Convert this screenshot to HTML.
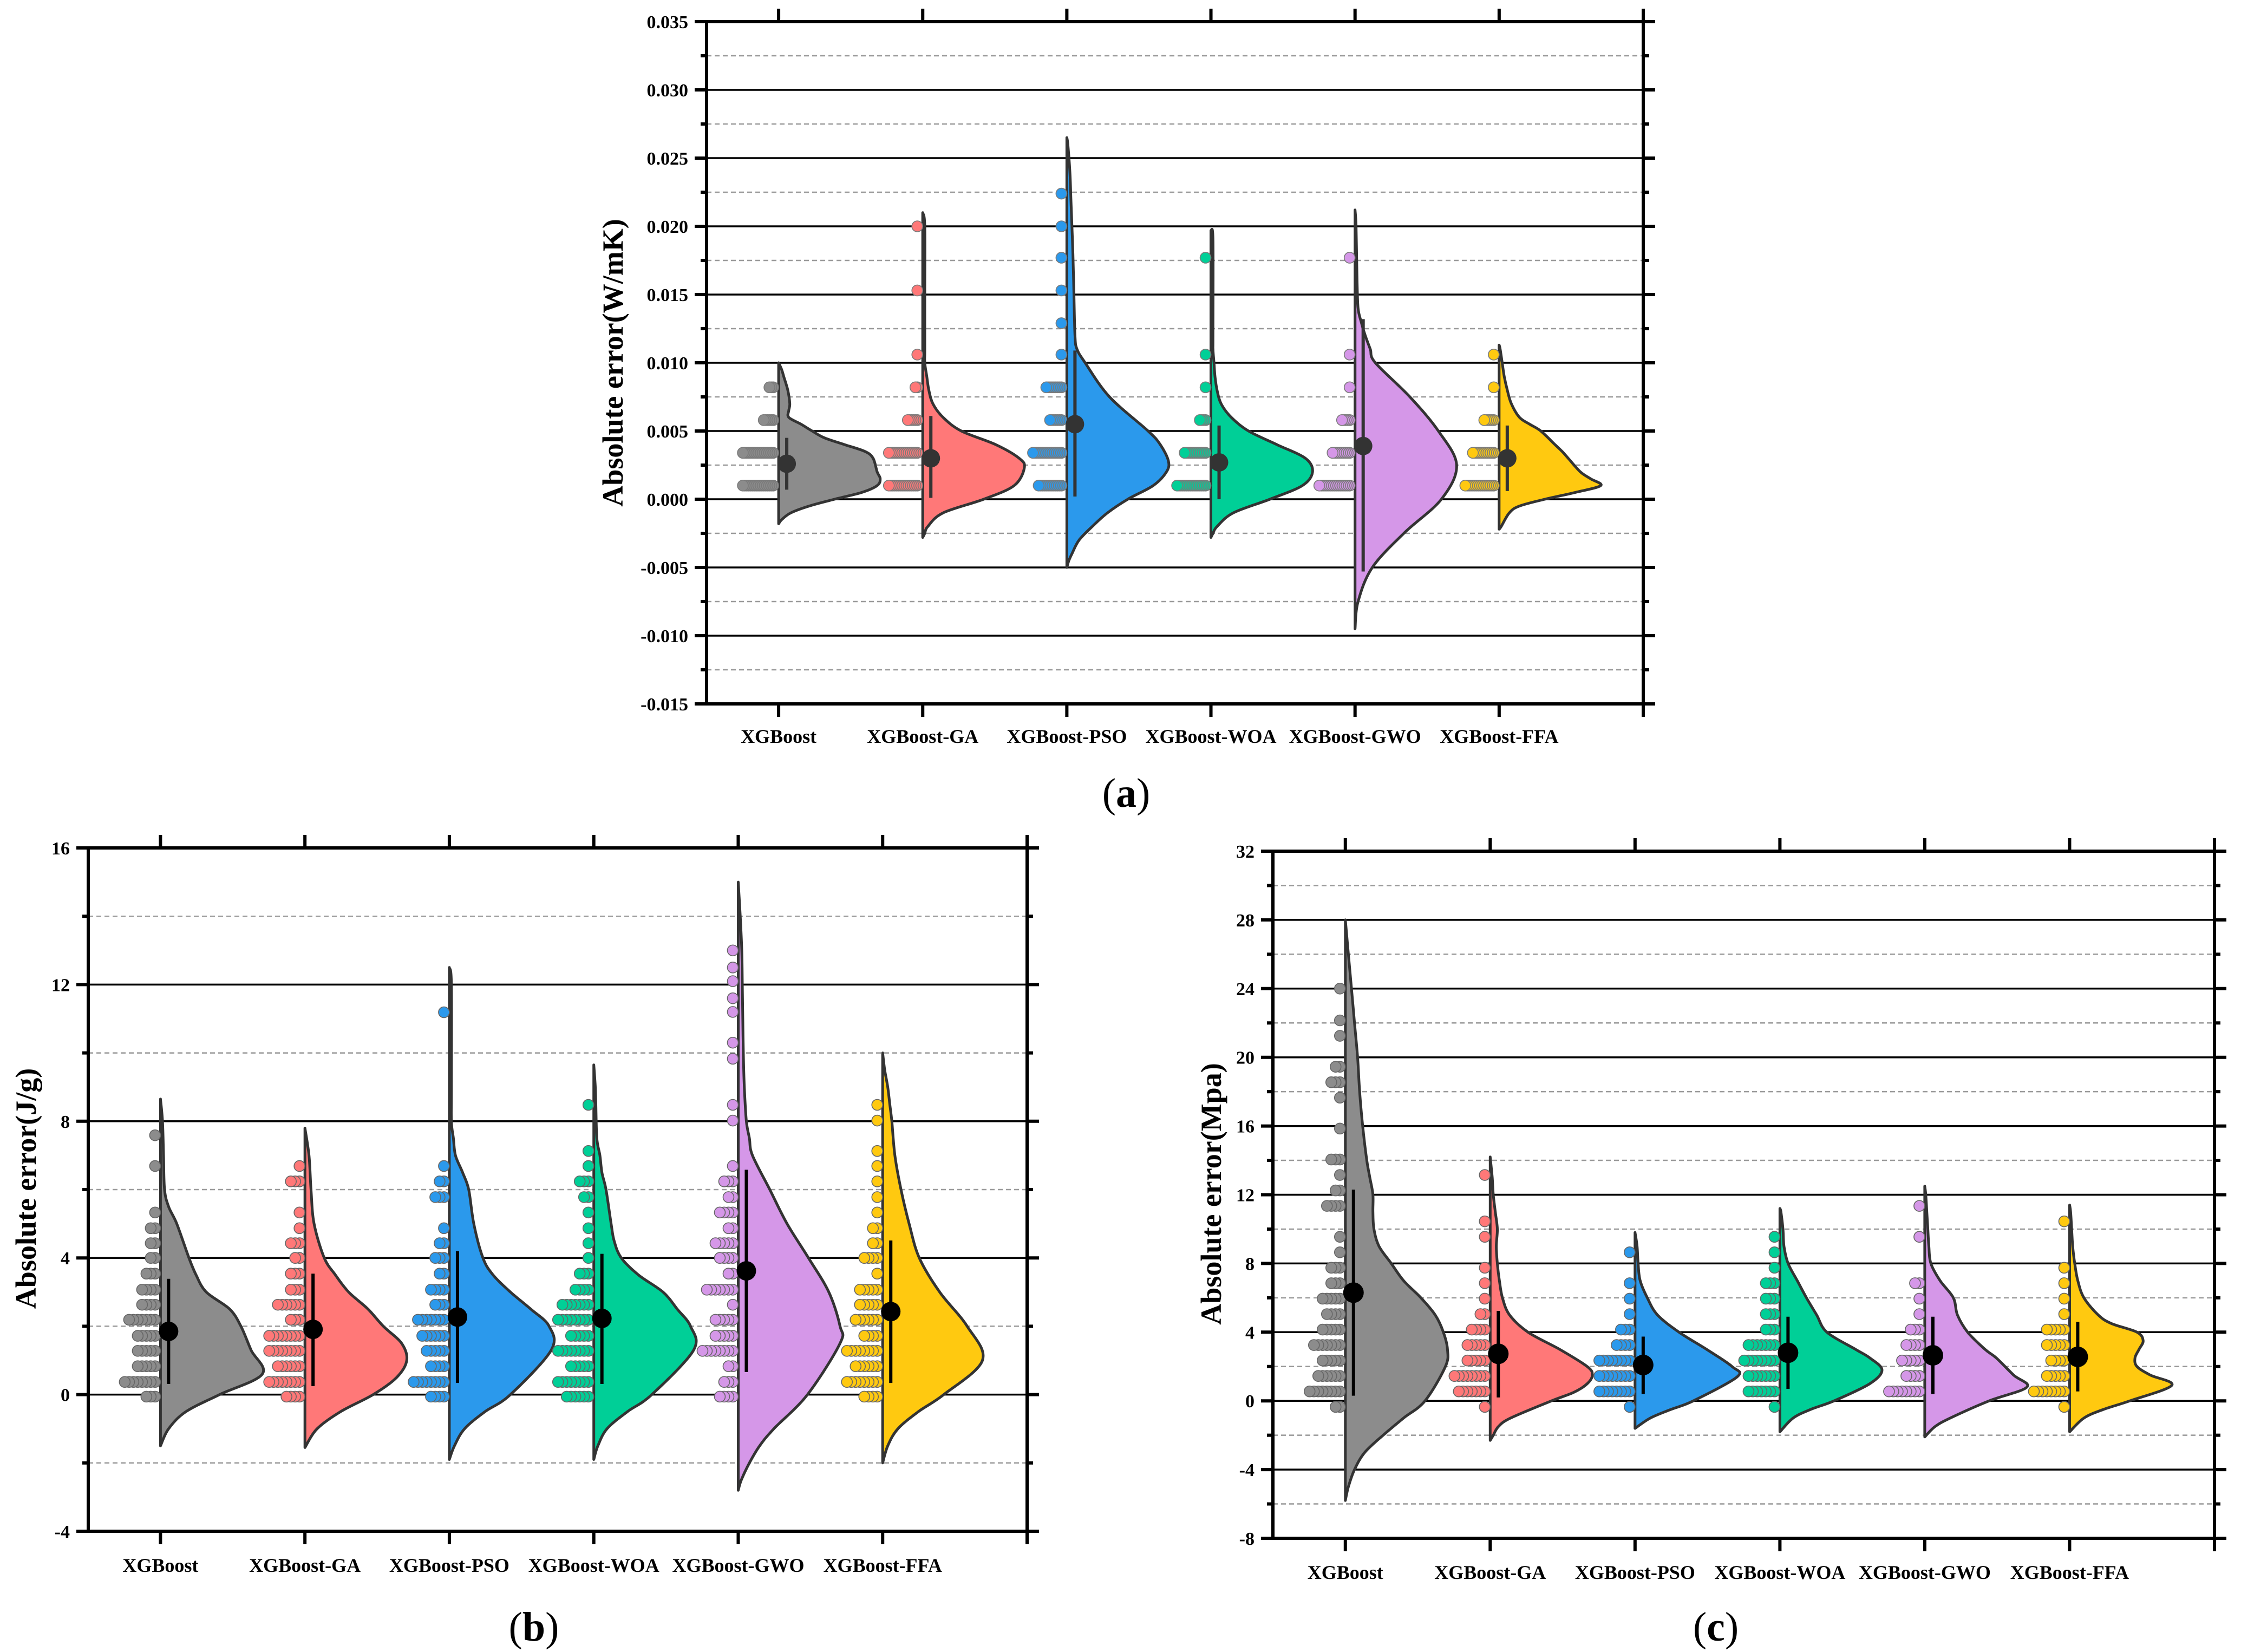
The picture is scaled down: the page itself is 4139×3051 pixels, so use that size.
<!DOCTYPE html>
<html><head><meta charset="utf-8"><style>
html,body{margin:0;padding:0;background:#fff;}
svg{display:block;font-family:"Liberation Serif",serif;}
</style></head><body>
<svg id="fig" width="4139" height="3051" viewBox="0 0 4139 3051" xmlns="http://www.w3.org/2000/svg">
<rect width="4139" height="3051" fill="#fff"/>
</svg>
<script>
// ---------- shared data ----------
const categories = ['XGBoost','XGBoost-GA','XGBoost-PSO','XGBoost-WOA','XGBoost-GWO','XGBoost-FFA'];
const colors = ['#8c8c8c','#ff7878','#2b99ec','#00cf97','#d597e8','#ffc910'];

// ---------- panel (a) data ----------
const aTicks = ['-0.015','-0.010','-0.005','0.000','0.005','0.010','0.015','0.020','0.025','0.030','0.035'];
const aMeans = [0.0026,0.0030,0.0055,0.0027,0.0039,0.0030];
const aErrLo = [0.0007,0.0001,0.0002,0.0000,-0.0053,0.0006];
const aErrHi = [0.0045,0.0061,0.0109,0.0054,0.0132,0.0054];
const aViolinY = [
 [-0.0018,-0.0015,-0.001,-0.0005,0,0.0005,0.001,0.0015,0.002,0.003,0.0035,0.004,0.0045,0.005,0.0055,0.006,0.0065,0.007,0.008,0.009,0.0095,0.010],
 [-0.0028,-0.0025,-0.002,-0.001,0,0.001,0.0023,0.003,0.004,0.005,0.006,0.007,0.008,0.009,0.010,0.011,0.015,0.020,0.021],
 [-0.005,-0.0045,-0.004,-0.003,-0.002,-0.001,0,0.001,0.002,0.0028,0.004,0.005,0.0075,0.010,0.011,0.012,0.015,0.018,0.020,0.022,0.024,0.026,0.0265],
 [-0.0028,-0.0025,-0.002,-0.001,0,0.001,0.002,0.003,0.004,0.005,0.006,0.007,0.008,0.009,0.010,0.011,0.012,0.019,0.0197],
 [-0.0095,-0.0075,-0.005,-0.0025,0,0.0025,0.005,0.0075,0.010,0.011,0.012,0.013,0.014,0.016,0.020,0.0212],
 [-0.0022,-0.002,-0.001,-0.0005,0,0.0005,0.001,0.0015,0.002,0.003,0.0035,0.004,0.005,0.0055,0.006,0.007,0.008,0.009,0.010,0.011,0.0113]
];
const aViolinW = [
 [0,0.03,0.12,0.3,0.55,0.82,0.97,1.0,0.97,0.93,0.85,0.65,0.45,0.33,0.22,0.1,0.1,0.11,0.09,0.05,0.03,0],
 [0,0.02,0.05,0.2,0.6,0.9,1.0,0.95,0.72,0.38,0.2,0.1,0.06,0.04,0.02,0.02,0.02,0.02,0],
 [0,0.02,0.05,0.12,0.25,0.4,0.6,0.85,0.98,1.0,0.92,0.8,0.42,0.18,0.1,0.08,0.07,0.06,0.05,0.04,0.03,0.01,0],
 [0,0.02,0.06,0.22,0.58,0.9,1.0,0.93,0.65,0.37,0.2,0.1,0.06,0.04,0.03,0.02,0.02,0.02,0],
 [0,0.03,0.17,0.48,0.85,1.0,0.82,0.54,0.2,0.15,0.1,0.06,0.03,0.02,0.01,0],
 [0,0.02,0.1,0.2,0.45,0.75,1.0,0.9,0.8,0.68,0.62,0.55,0.41,0.3,0.2,0.12,0.08,0.05,0.03,0.01,0]
];
const aDotY = [
 [0.001,0.0034,0.0058,0.0082],
 [0.001,0.0034,0.0058,0.0082,0.0106,0.0153,0.0200],
 [0.001,0.0034,0.0058,0.0082,0.0106,0.0129,0.0153,0.0177,0.0200,0.0224],
 [0.001,0.0034,0.0058,0.0082,0.0106,0.0177],
 [0.001,0.0034,0.0058,0.0082,0.0106,0.0177],
 [0.001,0.0034,0.0058,0.0082,0.0106]
];
const aDotN = [
 [17,17,6,3],
 [16,16,6,2,1,1,1],
 [13,16,7,9,1,1,1,1,1,1],
 [16,12,4,1,1,1],
 [17,10,5,1,1,1],
 [16,12,6,1,1]
];

// ---------- panel (b) data ----------
const bTicks = ['-4','0','4','8','12','16'];
const bMeans = [1.85,1.91,2.27,2.23,3.62,2.43];
const bErrLo = [0.31,0.25,0.34,0.31,0.66,0.34];
const bErrHi = [3.39,3.54,4.2,4.12,6.58,4.51];
const bViolinY = [
 [-1.5,-1,-0.5,0,0.6,1.3,2,2.5,3,3.5,4,5,5.5,6,7,8,8.65],
 [-1.55,-1,-0.5,0,0.5,1,1.5,2,2.5,3,3.5,4,5,6,7,7.8],
 [-1.9,-1.5,-1,-0.5,0,1.3,2,2.5,3,3.5,4,5,6,6.5,7,7.5,8,9,12,12.5],
 [-1.9,-1.5,-1,-0.5,0,1.3,2,2.5,3,3.5,4,4.5,5,6,6.5,7,7.5,8.5,9,9.65],
 [-2.8,-2.5,-2,-1.5,-1,0,1.5,2,3,4,5,6,7,7.5,8,9,10,11,12,13,14,15],
 [-2,-1.5,-1,-0.5,0,1,2,3,4,5,6,7,8,8.5,9,9.5,10]
];
const bViolinW = [
 [0,0.08,0.25,0.58,1.0,0.89,0.79,0.68,0.45,0.35,0.28,0.16,0.08,0.04,0.03,0.02,0],
 [0,0.12,0.35,0.67,0.9,1.0,0.95,0.77,0.62,0.43,0.3,0.19,0.09,0.06,0.04,0],
 [0,0.05,0.15,0.35,0.6,1.0,0.98,0.8,0.6,0.43,0.33,0.24,0.19,0.13,0.06,0.04,0.02,0.02,0.02,0],
 [0,0.04,0.13,0.33,0.57,0.98,0.95,0.82,0.68,0.44,0.27,0.2,0.17,0.12,0.08,0.06,0.03,0.02,0.015,0],
 [0,0.03,0.11,0.21,0.35,0.68,1.0,1.0,0.89,0.69,0.48,0.31,0.14,0.11,0.08,0.06,0.05,0.045,0.04,0.035,0.02,0],
 [0,0.05,0.15,0.35,0.6,0.98,0.83,0.56,0.36,0.26,0.18,0.12,0.09,0.07,0.05,0.02,0]
];
const bDotY = [
 [-0.06,0.37,0.83,1.28,1.72,2.19,2.63,3.07,3.54,4.0,4.43,4.87,5.33,6.69,7.59],
 [-0.06,0.37,0.83,1.28,1.72,2.19,2.63,3.07,3.54,4.0,4.43,4.87,5.33,6.24,6.69],
 [-0.06,0.37,0.83,1.28,1.72,2.19,2.63,3.07,3.54,4.0,4.43,4.87,5.78,6.24,6.69,11.19],
 [-0.06,0.37,0.83,1.28,1.72,2.19,2.63,3.07,3.54,4.0,4.43,4.87,5.33,5.78,6.24,6.69,7.13,8.48],
 [-0.06,0.37,0.83,1.28,1.72,2.19,2.63,3.07,3.54,4.0,4.43,4.87,5.33,5.78,6.24,6.69,8.02,8.48,9.83,10.3,11.2,11.6,12.1,12.5,13.0],
 [-0.06,0.37,0.83,1.28,1.72,2.19,2.63,3.07,3.54,4.0,4.43,4.87,5.33,5.78,6.24,6.69,7.13,8.02,8.48]
];
const bDotN = [
 [3,8,5,5,5,7,4,4,3,2,2,2,1,1,1],
 [4,8,6,8,8,3,6,3,3,2,3,1,1,3,1],
 [4,8,4,5,6,7,3,4,2,3,2,1,3,2,1,1],
 [6,8,5,8,5,8,7,4,3,1,1,1,1,2,3,1,1,1],
 [4,3,2,8,5,5,1,7,2,4,5,2,4,2,3,1,1,1,1,1,1,1,1,1,1],
 [4,8,6,8,4,6,5,5,1,4,2,2,1,1,1,1,1,1,1]
];

// ---------- panel (c) data ----------
const cTicks = ['-8','-4','0','4','8','12','16','20','24','28','32'];
const cMeans = [6.3,2.74,2.09,2.8,2.65,2.56];
const cErrLo = [0.3,0.2,0.4,0.7,0.4,0.55];
const cErrHi = [12.3,5.24,3.74,4.9,4.9,4.6];
const cViolinY = [
 [-5.8,-5,-4,-3,-2,-1,0,2,3,4,5,6,7,8,9,10,11,12,13,14,16,18,20,22,24,26,27,28],
 [-2.3,-2,-1.5,-1,0,0.5,1,1.5,2,3,4,5,6,7,8,9,10,11,12,13,14.2],
 [-1.6,-1,-0.5,0,1.4,2,3,4,5,6,7,8,9,9.8],
 [-1.8,-1,-0.5,0,1,1.8,2.5,3,4,5,6,7,8,9,10,11,11.2],
 [-2.1,-1.5,-1,0,0.8,1.5,2.5,3,4,5,6,7,8,9,10,11,12,12.5],
 [-1.8,-1,-0.5,0,0.9,1.5,2,2.5,3,3.5,4,4.5,5,6,7,8,9,10,11,11.4]
];
const cViolinW = [
 [0,0.03,0.09,0.19,0.37,0.57,0.78,0.98,1.0,0.96,0.88,0.74,0.57,0.45,0.33,0.28,0.27,0.27,0.24,0.21,0.17,0.14,0.12,0.09,0.06,0.03,0.015,0],
 [0,0.03,0.08,0.2,0.6,0.82,0.95,1.0,0.95,0.68,0.37,0.19,0.12,0.09,0.07,0.06,0.07,0.05,0.03,0.02,0],
 [0,0.15,0.35,0.57,1.0,0.95,0.7,0.43,0.22,0.12,0.05,0.03,0.02,0],
 [0,0.13,0.3,0.53,0.88,1.0,0.88,0.74,0.46,0.36,0.26,0.17,0.08,0.04,0.03,0.01,0],
 [0,0.1,0.25,0.63,1.0,0.87,0.7,0.59,0.42,0.32,0.28,0.15,0.06,0.04,0.03,0.02,0.01,0],
 [0,0.14,0.33,0.59,1.0,0.79,0.66,0.64,0.68,0.72,0.66,0.41,0.28,0.14,0.08,0.05,0.03,0.02,0.01,0]
];
const cDotY = [
 [-0.35,0.55,1.45,2.35,3.25,4.15,5.05,5.95,6.85,7.75,8.65,9.55,11.35,12.25,13.15,14.05,15.85,17.65,18.55,19.45,21.25,22.15,24.0],
 [-0.35,0.55,1.45,2.35,3.25,4.15,5.05,5.95,6.85,7.75,9.55,10.45,13.15],
 [-0.35,0.55,1.45,2.35,3.25,4.15,5.05,5.95,6.85,8.65],
 [-0.35,0.55,1.45,2.35,3.25,4.15,5.05,5.95,6.85,7.75,8.65,9.55],
 [0.55,1.45,2.35,3.25,4.15,5.05,5.95,6.85,9.55,11.35],
 [-0.35,0.55,1.45,2.35,3.25,4.15,5.05,5.95,6.85,7.75,10.45]
];
const cDotN = [
 [2,8,6,5,7,5,4,5,3,3,1,1,4,2,1,3,1,1,3,2,1,1,1],
 [1,7,8,5,5,4,2,1,1,1,1,1,1],
 [1,8,8,8,4,3,1,1,1,1],
 [1,7,7,8,7,3,3,3,3,1,1,1],
 [8,4,5,4,3,1,1,2,1,1],
 [1,8,5,4,5,5,1,1,1,1,1]
];

// ---------- drawing ----------
const NS = 'http://www.w3.org/2000/svg';
const fig = document.getElementById('fig');
function mk(tag, attrs, parent){
  const e = document.createElementNS(NS, tag);
  for (const k in attrs) e.setAttribute(k, attrs[k]);
  (parent||fig).appendChild(e);
  return e;
}
function smoothPath(pts){
  let d = 'M'+pts[0][0].toFixed(1)+','+pts[0][1].toFixed(1);
  for (let i=0;i<pts.length-1;i++){
    const p0=pts[Math.max(0,i-1)], p1=pts[i], p2=pts[i+1], p3=pts[Math.min(pts.length-1,i+2)];
    const c1x=p1[0]+(p2[0]-p0[0])/6, c1y=p1[1]+(p2[1]-p0[1])/6;
    const c2x=p2[0]-(p3[0]-p1[0])/6, c2y=p2[1]-(p3[1]-p1[1])/6;
    d+=' C'+c1x.toFixed(1)+','+c1y.toFixed(1)+' '+c2x.toFixed(1)+','+c2y.toFixed(1)+' '+p2[0].toFixed(1)+','+p2[1].toFixed(1);
  }
  return d;
}

function drawPanel(P){
  const g = mk('g', {});
  
  
  const step = (P.right-P.left)/6.5;
  const xc = i => P.left + (i+0.5)*step;
  const ys = v => P.top + (P.ymax - v)/(P.ymax-P.ymin)*(P.bottom-P.top);
  const maxW = step*0.705;

  const nMaj = P.ticks.length;
  for (let k=0;k<nMaj;k++){
    const v = P.ymin + k*P.major;
    if (k>0 && k<nMaj-1){
      const l = mk('line',{x1:P.left,x2:P.right,y1:ys(v),y2:ys(v),stroke:'#000','stroke-width':3.5},g);
      
      
    }
    if (k<nMaj-1){
      const m = v + P.major/2;
      const l2 = mk('line',{x1:P.left,x2:P.right,y1:ys(m),y2:ys(m),stroke:'#9a9a9a','stroke-width':2.5,'stroke-dasharray':'9,6'},g);
      
      
    }
  }

  for (let i=0;i<6;i++){
    const s = mk('g',{},g);
    
    
    const cx = xc(i);
    const vy = P.vY[i], vw = P.vW[i];
    const pts = [];
    for (let k=vy.length-1;k>=0;k--) pts.push([cx + vw[k]*maxW, ys(vy[k])]);
    const d = 'M'+cx.toFixed(1)+','+ys(vy[0]).toFixed(1)+' L'+cx.toFixed(1)+','+ys(vy[vy.length-1]).toFixed(1)+' '+smoothPath(pts).replace(/^M[^ ]+/,'')+' Z';
    const vp = mk('path',{d:d,fill:colors[i],stroke:'#333','stroke-width':5,'stroke-linejoin':'round'},s);
    
    
    for (let r=0;r<P.dY[i].length;r++){
      const y = ys(P.dY[i][r]);
      for (let n=0;n<P.dN[i][r];n++){
        const c = mk('circle',{cx:cx - P.dotR - n*P.dotSp, cy:y, r:P.dotR, fill:colors[i], stroke:P.dotStroke,'stroke-width':1.6},s);
        
        
      }
    }
    const mx = cx + P.meanOff;
    const eb = mk('line',{x1:mx,x2:mx,y1:ys(P.lo[i]),y2:ys(P.hi[i]),stroke:P.meanColor,'stroke-width':6},s);
    
    
    const md = mk('circle',{cx:mx,cy:ys(P.means[i]),r:P.meanR,fill:P.meanColor},s);
    
    
  }

  const fr = mk('rect',{x:P.left,y:P.top,width:P.right-P.left,height:P.bottom-P.top,fill:'none',stroke:'#000','stroke-width':6},g);
  
  
  for (let k=0;k<nMaj;k++){
    const v = P.ymin + k*P.major, y = ys(v);
    mk('line',{x1:P.left-22,x2:P.left,y1:y,y2:y,stroke:'#000','stroke-width':6},g);
    mk('line',{x1:P.right,x2:P.right+22,y1:y,y2:y,stroke:'#000','stroke-width':6},g);
    if (k<nMaj-1){
      const ym = ys(v+P.major/2);
      mk('line',{x1:P.left-11,x2:P.left,y1:ym,y2:ym,stroke:'#000','stroke-width':6},g);
      mk('line',{x1:P.right,x2:P.right+11,y1:ym,y2:ym,stroke:'#000','stroke-width':6},g);
    }
    const t = mk('text',{x:P.left-34,y:y+12,'text-anchor':'end','font-size':34,'font-weight':'bold'},g);
    
    
    t.textContent = P.ticks[k];
  }
  for (let i=0;i<=6;i++){
    const x = i<6 ? xc(i) : P.right;
    mk('line',{x1:x,x2:x,y1:P.top-24,y2:P.top,stroke:'#000','stroke-width':6},g);
    mk('line',{x1:x,x2:x,y1:P.bottom,y2:P.bottom+24,stroke:'#000','stroke-width':6},g);
    if (i<6){
      const t = mk('text',{x:x,y:P.catY,'text-anchor':'middle','font-size':36,'font-weight':'bold'},g);
      
      
      t.textContent = categories[i];
    }
  }
  const yt = mk('text',{x:0,y:0,'text-anchor':'middle','font-size':54,'font-weight':'bold',transform:'translate('+P.titleX+','+P.titleY+') rotate(-90)'},g);
  
  
  yt.textContent = P.title;
  const pl = mk('text',{x:P.labX,y:P.labY,'text-anchor':'middle','font-size':76},g);
  
  
  pl.appendChild(document.createTextNode('('));
  const b = mk('tspan',{'font-weight':'bold'},pl); b.textContent = P.letter;
  pl.appendChild(document.createTextNode(')'));
}

drawPanel({name:'panel-a-thermal-conductivity',left:1305,right:3035,top:40,bottom:1300,ymin:-0.015,ymax:0.035,major:0.005,
  ticks:aTicks,means:aMeans,lo:aErrLo,hi:aErrHi,vY:aViolinY,vW:aViolinW,dY:aDotY,dN:aDotN,
  dotR:10,dotSp:3.5,dotStroke:'#7a7a7a',meanOff:15,meanR:17,meanColor:'#333',
  catY:1372,title:'Absolute error(W/mK)',titleX:1150,titleY:670,labX:2080,labY:1490,letter:'a'});
drawPanel({name:'panel-b-specific-heat',left:163,right:1897,top:1566,bottom:2828,ymin:-4,ymax:16,major:4,
  ticks:bTicks,means:bMeans,lo:bErrLo,hi:bErrHi,vY:bViolinY,vW:bViolinW,dY:bDotY,dN:bDotN,
  dotR:10,dotSp:8,dotStroke:'#666',meanOff:15,meanR:18,meanColor:'#000',
  catY:2903,title:'Absolute error(J/g)',titleX:66,titleY:2195,labX:986,labY:3030,letter:'b'});
drawPanel({name:'panel-c-strength',left:2351,right:4090,top:1572,bottom:2841,ymin:-8,ymax:32,major:4,
  ticks:cTicks,means:cMeans,lo:cErrLo,hi:cErrHi,vY:cViolinY,vW:cViolinW,dY:cDotY,dN:cDotN,
  dotR:10,dotSp:8,dotStroke:'#666',meanOff:15,meanR:19,meanColor:'#000',
  catY:2916,title:'Absolute error(Mpa)',titleX:2255,titleY:2205,labX:3169,labY:3030,letter:'c'});
</script>
</body></html>
